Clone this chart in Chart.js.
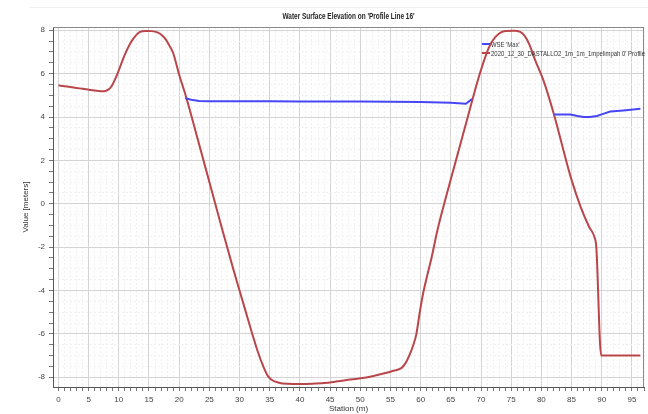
<!DOCTYPE html>
<html>
<head>
<meta charset="utf-8">
<script src="https://cdn.jsdelivr.net/npm/chart.js@4/dist/chart.umd.min.js"></script>
<style>
  html, body { margin: 0; padding: 0; background: #ffffff; }
  #wrap { width: 648px; height: 414px; position: relative; }
</style>
</head>
<body>
<div id="wrap"><canvas id="c" width="648" height="414"></canvas></div>
<script>
// ---- data ----
const chartTitle = "Water Surface Elevation on 'Profile Line 16'";
const xAxisTitle = "Station (m)";
const yAxisTitle = "Value [meters]";
const wseLabel = "WSE 'Max'";
const groundLabel = "2020_12_30_DASTALLO2_1m_1m_1mpelimpah 0' Profile";

const groundStation = [0,1,2,3,4,5,6,7,7.6,8.2,8.8,9.4,10,10.6,11.2,11.8,12.5,13.5,14.5,15.5,16.4,17.1,17.8,18.4,19,20,21.2,23.1,25,27,29,30,31,32,33,34,34.7,35.5,36.5,38,40,42,44,46,48,50,52,54,55.5,56.8,57.5,58.2,58.8,59.3,59.8,60.4,61.1,61.8,62.8,64,66,68,69.5,70.5,71.3,72,73,74,75.5,76.5,77.2,78,79,80.3,82.1,84,85,86.5,87.9,88.8,89.1,89.9,96.4];
const groundValue   = [5.46,5.42,5.38,5.34,5.30,5.26,5.22,5.19,5.19,5.25,5.42,5.75,6.15,6.6,7.0,7.34,7.65,7.92,7.97,7.96,7.9,7.78,7.57,7.28,6.95,5.95,4.88,2.95,1.0,-1.05,-3.05,-4.0,-4.95,-5.9,-6.8,-7.55,-7.95,-8.15,-8.25,-8.3,-8.31,-8.3,-8.27,-8.2,-8.12,-8.05,-7.95,-7.82,-7.7,-7.58,-7.35,-6.95,-6.5,-6.0,-5.1,-4.15,-3.3,-2.5,-1.2,0.1,2.15,4.2,5.72,6.6,7.2,7.55,7.85,7.97,7.98,7.92,7.75,7.35,6.6,5.72,4.1,2.1,1.1,-0.14,-1.06,-1.55,-2.0,-7.0,-7.0];

const wseStation = [21.0,22,23.3,25,30,35,40,45,50,55,60,65,67.5,68.5,75,82.1,84.8,86,87,88,89.2,90,91.4,93.6,96.4];
const wseValue   = [4.87,4.8,4.74,4.73,4.73,4.73,4.72,4.72,4.71,4.70,4.69,4.66,4.61,4.83,null,4.12,4.12,4.05,4.0,4.0,4.05,4.12,4.25,4.3,4.38];

const xTickLabels = [0,5,10,15,20,25,30,35,40,45,50,55,60,65,70,75,80,85,90,95];
const yTickLabels = [-8,-6,-4,-2,0,2,4,6,8];

// ---- build ----
const toPts = (xs, ys) => xs.map((x, i) => ({x: x, y: ys[i]}));
const FONT = "'Liberation Sans Narrow', 'Liberation Sans', sans-serif";

const xMinor = []; for (let v = 0; v <= 97; v += 1) xMinor.push(v);
const yMinor = []; for (let v = -8; v <= 8.001; v += 0.5) yMinor.push(Math.round(v * 10) / 10);

const isMajorX = v => xTickLabels.includes(v);
const isMajorY = v => yTickLabels.includes(v);

function narrowText(ctx, text, x, y, sx) {
  ctx.save();
  ctx.translate(x, y);
  ctx.scale(sx, 1);
  ctx.fillText(text, 0, 0);
  ctx.restore();
}

const extras = {
  id: 'extras',
  afterDraw(chart) {
    const ctx = chart.ctx, a = chart.chartArea;
    ctx.save();
    // frame top/right
    ctx.strokeStyle = '#8a8a8a'; ctx.lineWidth = 1;
    ctx.beginPath();
    ctx.moveTo(a.left, a.top + 0.5); ctx.lineTo(a.right, a.top + 0.5);
    ctx.moveTo(a.right - 0.5, a.top); ctx.lineTo(a.right - 0.5, a.bottom);
    ctx.stroke();
    // faint window line
    ctx.strokeStyle = '#f0f0f0';
    ctx.beginPath(); ctx.moveTo(30, 7.5); ctx.lineTo(648, 7.5); ctx.stroke();
    // title (condensed to the reference width)
    ctx.fillStyle = '#222';
    ctx.font = 'bold 9px ' + FONT;
    ctx.textBaseline = 'middle'; ctx.textAlign = 'left';
    const tw = ctx.measureText(chartTitle).width;
    const tW = 132;
    narrowText(ctx, chartTitle, (a.left + a.right) / 2 - tW / 2, 17, tW / tw);
    // legend
    const ds = chart.data.datasets;
    ctx.font = '7.5px ' + FONT;
    const lsx = 154 / ctx.measureText(ds[1].label).width;
    const lx = 482, ly = [44, 53];
    ds.forEach((d, i) => {
      ctx.strokeStyle = d.borderColor; ctx.lineWidth = 2;
      ctx.beginPath(); ctx.moveTo(lx, ly[i]); ctx.lineTo(lx + 8, ly[i]); ctx.stroke();
      ctx.fillStyle = '#333';
      narrowText(ctx, d.label, lx + 9, ly[i] + 0.5, lsx);
    });
    ctx.restore();
  }
};

new Chart(document.getElementById('c'), {
  type: 'line',
  data: {
    datasets: [
      { label: wseLabel, data: toPts(wseStation, wseValue), borderColor: '#4646f5', borderWidth: 2,
        pointRadius: 0, spanGaps: false, tension: 0, order: 1 },
      { label: groundLabel, data: toPts(groundStation, groundValue), borderColor: '#b9464b', borderWidth: 2,
        pointRadius: 0, cubicInterpolationMode: 'monotone', order: 2 }
    ]
  },
  options: {
    responsive: false,
    animation: false,
    layout: { padding: { top: 27, right: 2, left: 0, bottom: 0 } },
    plugins: { legend: { display: false }, title: { display: false }, tooltip: { enabled: false } },
    scales: {
      x: {
        type: 'linear', min: -0.9, max: 97,
        afterBuildTicks: s => { s.ticks = xMinor.map(v => ({value: v})); },
        afterFit: s => { s.height = 27; },
        ticks: { autoSkip: false, maxRotation: 0, padding: 4, color: '#444',
                 font: { family: FONT, size: 8 },
                 callback: v => isMajorX(v) ? String(v) : '' },
        grid: { color: c => isMajorX(c.tick.value) ? '#d4d4d4' : '#f0f0f0',
                tickColor: '#777', tickLength: 4, lineWidth: 1 },
        border: { display: true, color: '#555', dash: c => (c.tick && isMajorX(c.tick.value)) ? [] : [2, 2] },
        title: { display: true, text: xAxisTitle, color: '#333', font: { family: FONT, size: 8 },
                 padding: { top: 0, bottom: 0 } }
      },
      y: {
        type: 'linear', min: -8.45, max: 8.15,
        afterBuildTicks: s => { s.ticks = yMinor.map(v => ({value: v})); },
        afterFit: s => { s.width = 53; },
        ticks: { autoSkip: false, padding: 4, color: '#444',
                 font: { family: FONT, size: 8 },
                 callback: v => isMajorY(v) ? String(v) : '' },
        grid: { color: c => isMajorY(c.tick.value) ? '#d4d4d4' : '#f0f0f0',
                tickColor: '#777', tickLength: 4, lineWidth: 1 },
        border: { display: true, color: '#555', dash: c => (c.tick && isMajorY(c.tick.value)) ? [] : [2, 2] },
        title: { display: true, text: yAxisTitle, color: '#333', font: { family: FONT, size: 8 },
                 padding: { top: 21, bottom: 0 } }
      }
    }
  },
  plugins: [extras]
});
</script>
</body>
</html>
